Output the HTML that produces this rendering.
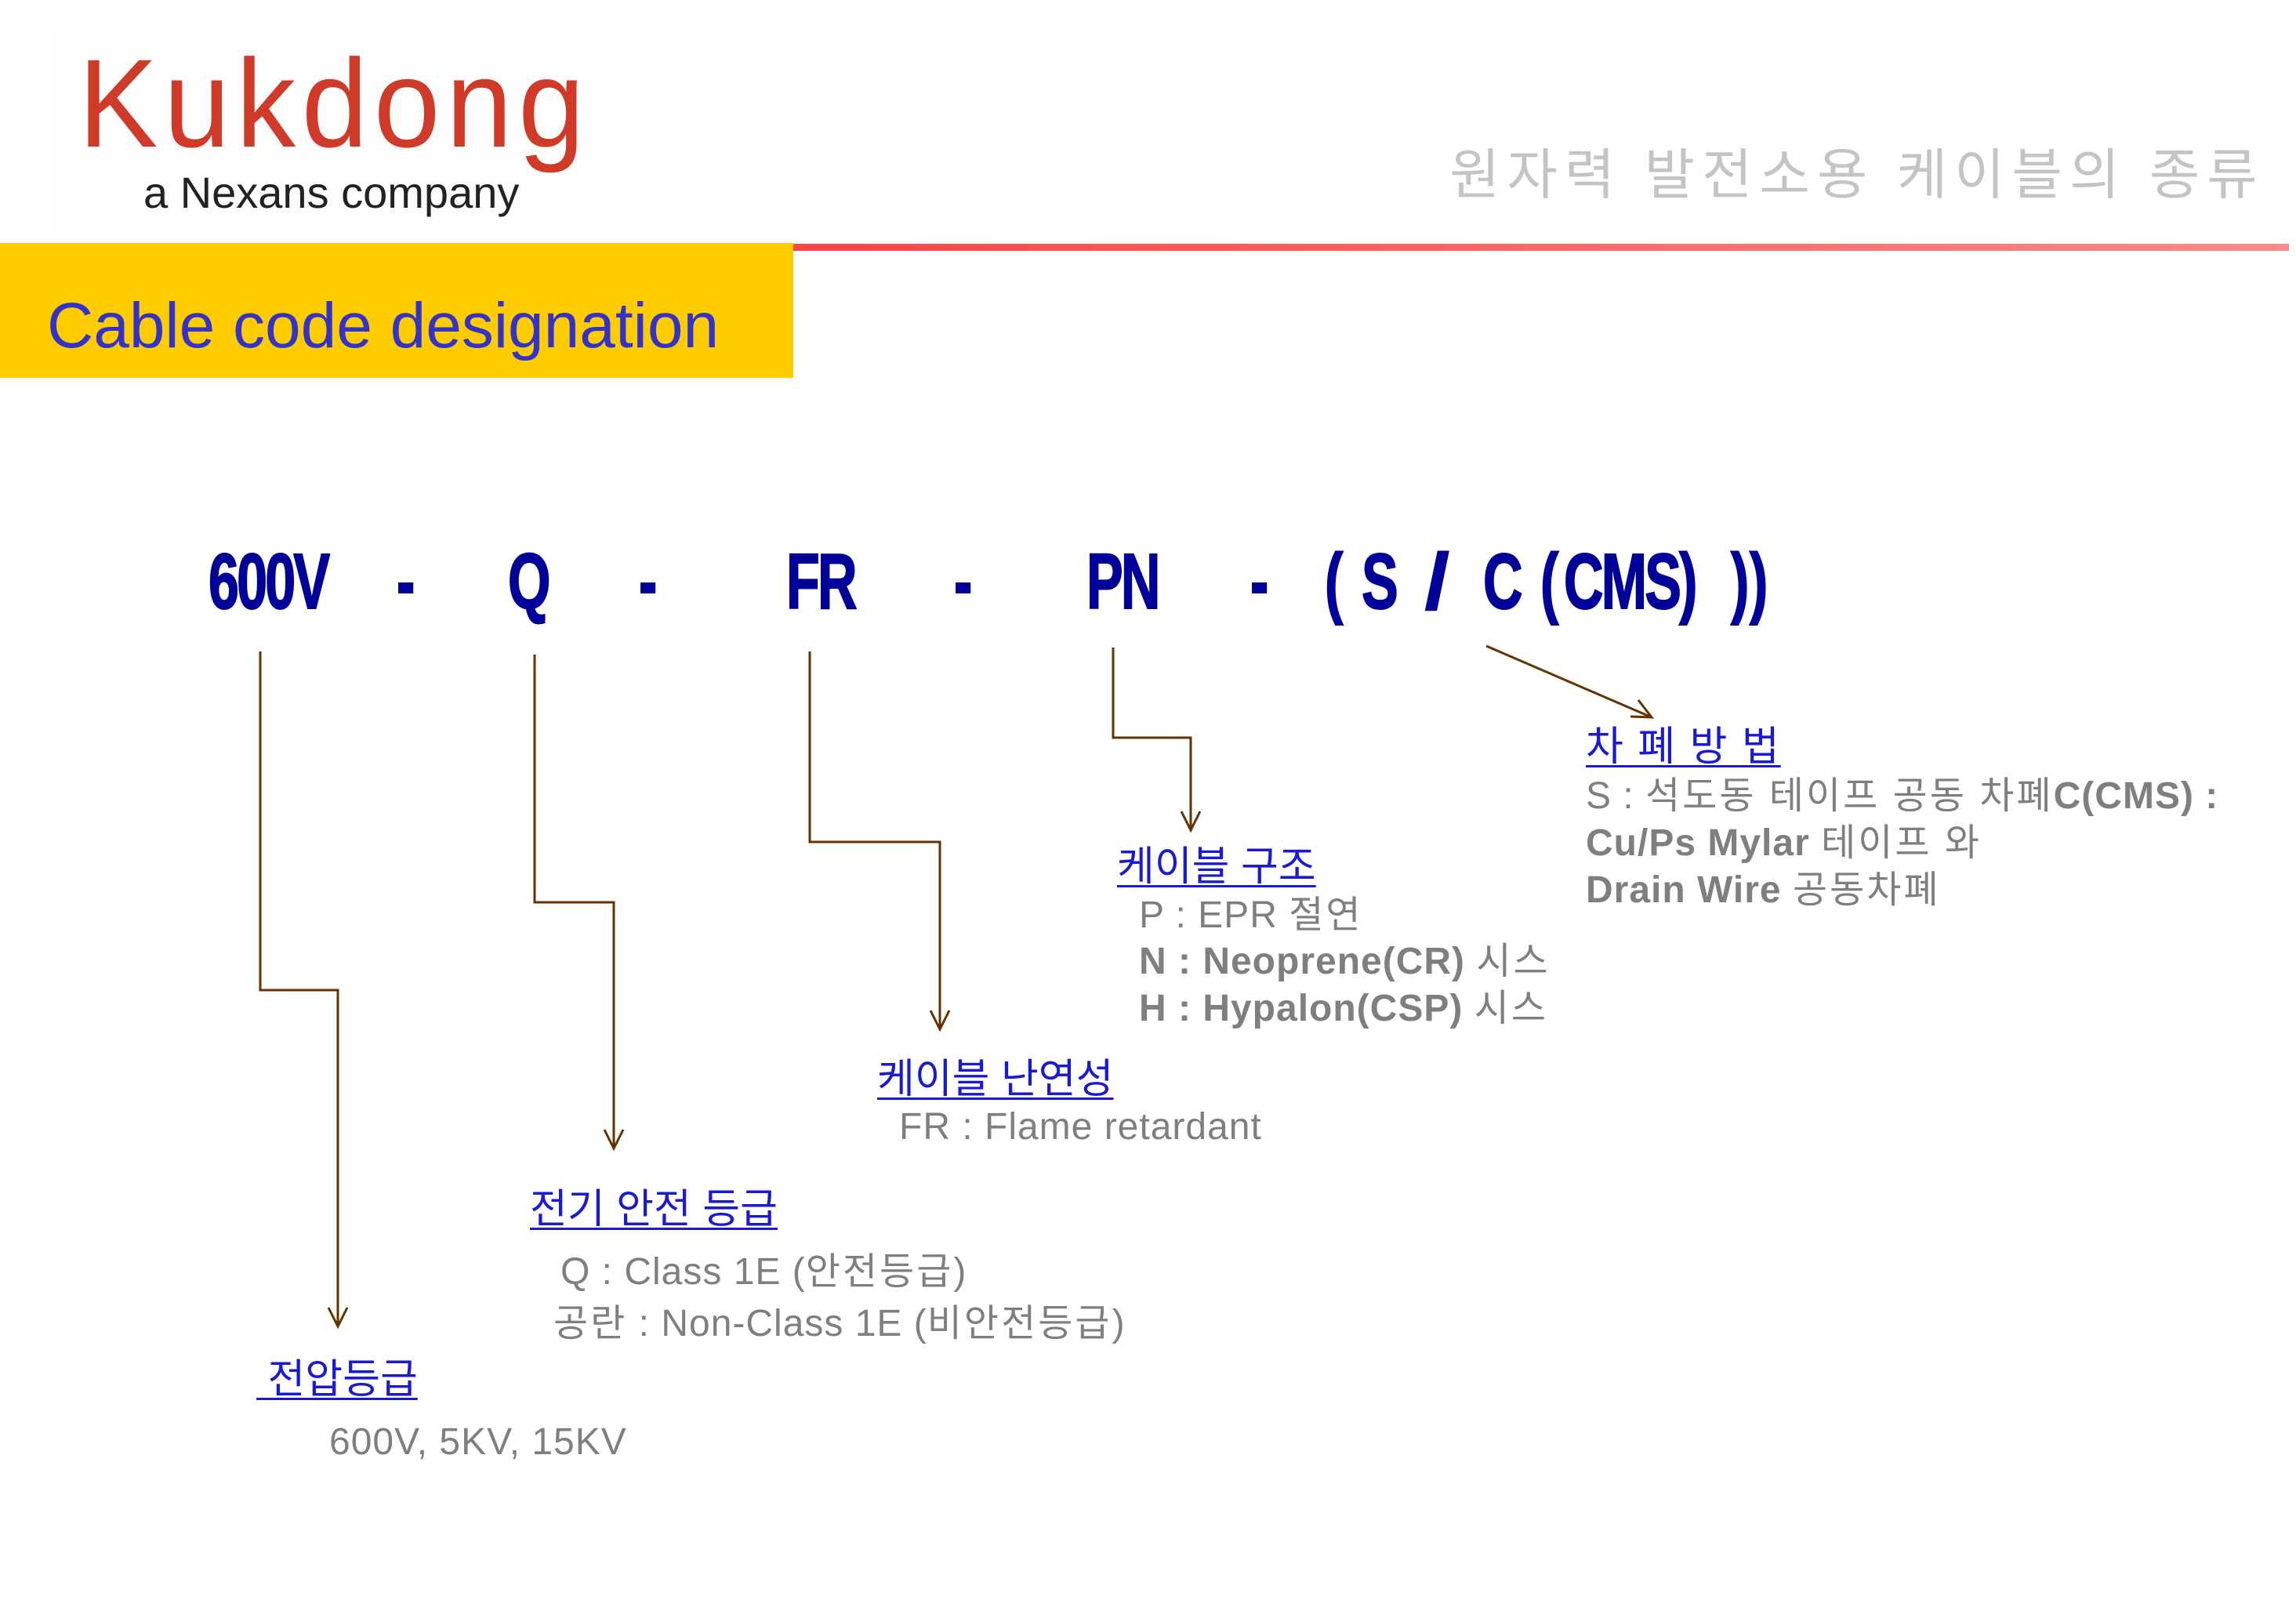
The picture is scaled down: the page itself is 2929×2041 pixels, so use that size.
<!DOCTYPE html>
<html><head><meta charset="utf-8"><style>
body{margin:0;width:2929px;height:2041px;background:#fff;position:relative;overflow:hidden;font-family:"Liberation Sans","Noto Sans CJK KR",sans-serif}
.t{position:absolute;white-space:nowrap;line-height:1}
.g{color:#7f7f7f;font-size:48px;letter-spacing:1px}
.k{letter-spacing:3px}
.h{color:#1a1ad0;font-size:52px;text-decoration:underline;text-decoration-thickness:3px;text-underline-offset:6px}
.c{position:absolute;white-space:nowrap;color:#000099;font-weight:bold;font-size:100px;line-height:1;top:692px;transform:scaleX(0.7);transform-origin:left;letter-spacing:-4px;-webkit-text-stroke:2px #000099}
b{font-weight:bold}
</style></head><body>
<div style="position:absolute;left:65px;top:34px;width:720px;height:261px;background:#fdfdfd"></div>
<div class="t" style="left:100px;top:52px;font-size:160px;color:#d03a28;transform:scaleX(0.95);transform-origin:left;letter-spacing:8px">Kukdong</div>
<div class="t" style="left:183px;top:218px;font-size:56px;color:#222">a Nexans company</div>
<div class="t" style="left:1849px;top:188px;font-size:70px;color:#c4c4c4;letter-spacing:9px">원자력 발전소용 케이블의 종류</div>
<div style="position:absolute;left:1012px;top:311px;width:1908px;height:9px;background:linear-gradient(90deg,#f44 0%,#f88 100%)"></div>
<div style="position:absolute;left:0;top:310px;width:1012px;height:172px;background:#ffcc00"></div>
<div class="t" style="left:60px;top:375px;font-size:82px;color:#3333cc">Cable code designation</div>

<div class="c" style="left:266px">600V</div>
<div class="c" style="left:506px">-</div>
<div class="c" style="left:648px">Q</div>
<div class="c" style="left:815px">-</div>
<div class="c" style="left:1003px">FR</div>
<div class="c" style="left:1217px">-</div>
<div class="c" style="left:1386px">PN</div>
<div class="c" style="left:1595px">-</div>
<div class="c" style="left:1690px">(</div>
<div class="c" style="left:1737px">S</div>
<div class="c" style="left:1818px;transform:scaleX(1.1)">/</div>
<div class="c" style="left:1892px">C</div>
<div class="c" style="left:1965px">(</div>
<div class="c" style="left:1995px">CMS)</div>
<div class="c" style="left:2208px">)</div>
<div class="c" style="left:2232px">)</div>

<svg style="position:absolute;left:0;top:0" width="2929" height="2041">
<g fill="none" stroke="#663300" stroke-width="3">
<polyline points="332,831 332,1263 431,1263 431,1690"/><polyline points="419,1668 431,1692 443,1668"/>
<polyline points="682,835 682,1151 783,1151 783,1463"/><polyline points="771,1441 783,1465 795,1441"/>
<polyline points="1033,831 1033,1074 1199,1074 1199,1311"/><polyline points="1187,1289 1199,1313 1211,1289"/>
<polyline points="1420,826 1420,941 1519,941 1519,1057"/><polyline points="1507,1035 1519,1059 1531,1035"/>
<line x1="1896" y1="824" x2="2107" y2="915"/><polyline points="2080,914 2107,915 2090,893"/>
</g></svg>

<div class="t h" style="left:2023px;top:927px;letter-spacing:2px">차 폐 방 법</div>
<div class="t g" style="left:2023px;top:992px">S : <span class="k">석도동 테이프 공동 차폐</span><b>C(CMS) :</b></div>
<div class="t g" style="left:2023px;top:1052px"><b>Cu/Ps Mylar</b> <span class="k">테이프 와</span></div>
<div class="t g" style="left:2023px;top:1112px"><b>Drain Wire</b> <span class="k">공동차폐</span></div>

<div class="t h" style="left:1425px;top:1080px">케이블 구조</div>
<div class="t g" style="left:1453px;top:1144px">P : EPR <span class="k">절연</span></div>
<div class="t g" style="left:1453px;top:1203px"><b>N : Neoprene(CR)</b> <span class="k">시스</span></div>
<div class="t g" style="left:1453px;top:1263px"><b>H : Hypalon(CSP)</b> <span class="k">시스</span></div>

<div class="t h" style="left:1119px;top:1351px">케이블 난연성</div>
<div class="t g" style="left:1147px;top:1414px">FR : Flame retardant</div>

<div class="t h" style="left:676px;top:1517px">전기 안전 등급</div>
<div class="t g" style="left:715px;top:1599px">Q : Class 1E (<span class="k">안전등급</span>)</div>
<div class="t g" style="left:706px;top:1665px"><span class="k">공란</span> : Non-Class 1E (<span class="k">비안전등급</span>)</div>

<div class="t h" style="left:327px;top:1734px">&nbsp;전압등급</div>
<div class="t g" style="left:420px;top:1816px">600V, 5KV, 15KV</div>
</body></html>
